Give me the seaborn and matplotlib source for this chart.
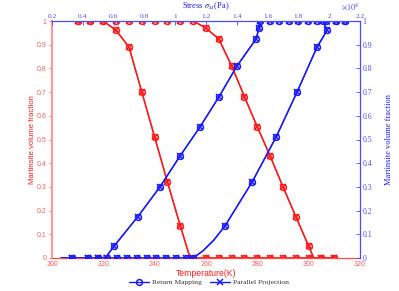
import numpy as np
import pandas as pd
import matplotlib
matplotlib.use("Agg")
import matplotlib.pyplot as plt
import seaborn as sns
from matplotlib.lines import Line2D

# ---------------- data ----------------
# Temperature-driven curves (bottom / left axes)
temp_fwd = [210, 215, 220, 225, 230, 235, 240, 245, 250, 253.8, 255, 260, 265, 270,
            275, 280, 285, 290, 295, 300, 305, 310]
frac_fwd = [1, 1, 1, 0.96, 0.89, 0.70, 0.51, 0.32, 0.135, 0, 0, 0, 0, 0,
            0, 0, 0, 0, 0, 0, 0, 0]
marks_fwd = [i for i in range(len(temp_fwd)) if i != 9]

temp_rev = [210, 215, 220, 225, 230, 235, 240, 245, 250, 255, 260, 265, 270, 275,
            280, 285, 290, 295, 300, 302, 305, 310]
frac_rev = [1, 1, 1, 1, 1, 1, 1, 1, 1, 1, 0.97, 0.924, 0.81, 0.68,
            0.553, 0.43, 0.30, 0.175, 0.05, 0, 0, 0]
marks_rev = [i for i in range(len(temp_rev)) if i != 19]

# Stress-driven curves (top / right axes), stress in 1e8 Pa
stress_c = [0.26, 0.33, 0.434, 0.499, 0.545, 0.603, 0.758, 0.901, 1.031, 1.161, 1.284,
            1.401, 1.525, 1.544, 1.551, 1.616, 1.674, 1.739, 1.797, 1.862, 1.921, 1.979,
            2.044, 2.103]
frac_c = [0, 0, 0, 0, 0, 0.05, 0.175, 0.30, 0.43, 0.553, 0.68,
          0.81, 0.924, 0.97, 1, 1, 1, 1, 1, 1, 1, 1,
          1, 1]
marks_c = [i for i in range(len(stress_c)) if i not in (0, 4)]

stress_d = [0.26, 0.330, 0.434, 0.499, 0.557, 0.622, 0.687, 0.752, 0.817, 0.875, 0.940,
            1.005, 1.070, 1.116, 1.18, 1.25, 1.323, 1.499, 1.655, 1.791, 1.921, 1.986,
            1.96, 2.044, 2.103]
frac_d = [0, 0, 0, 0, 0, 0, 0, 0, 0, 0, 0,
          0, 0, 0, 0.03, 0.075, 0.135, 0.32, 0.51, 0.70, 0.89, 0.96,
          1, 1, 1]
marks_d = [i for i in range(len(stress_d)) if i not in (0, 14, 15)]

temp_ticks = [200, 220, 240, 260, 280, 300, 320]
stress_ticks = [0.2, 0.4, 0.6, 0.8, 1, 1.2, 1.4, 1.6, 1.8, 2, 2.2]
frac_ticks = [0, 0.1, 0.2, 0.3, 0.4, 0.5, 0.6, 0.7, 0.8, 0.9, 1]
legend_labels = ["Return Mapping", "Parallel Projection"]

# ---------------- style ----------------
sns.set_theme(style="white")
plt.rcParams['font.family'] = ['Liberation Sans', 'DejaVu Sans']
plt.rcParams['mathtext.fontset'] = 'stix'

RED = '#ff1a1a'
RED_TXT = '#ff5a5a'
BLUE = '#1a1aff'
BLUE_TXT = '#4a4aff'
SERIF = ['Liberation Serif', 'DejaVu Serif']
MS = 4.2

W, H = 399, 291
fig = plt.figure(figsize=(W / 100, H / 100), dpi=100)
rect = [52 / W, 1 - 258 / H, 308 / W, 237 / H]
ax = fig.add_axes(rect)
ax2 = fig.add_axes(rect, facecolor='none')


def draw(axis, x, y, marks, color):
    df = pd.DataFrame({'x': x, 'y': y})
    for m in ['o', 'x']:
        sns.lineplot(data=df, x='x', y='y', ax=axis, sort=False, estimator=None,
                     color=color, lw=1.0, marker=m, markevery=marks, markersize=MS,
                     markeredgewidth=1.1, markeredgecolor=color,
                     markerfacecolor='none', legend=False)


draw(ax, temp_fwd, frac_fwd, marks_fwd, RED)
draw(ax, temp_rev, frac_rev, marks_rev, RED)
draw(ax2, stress_c, frac_c, marks_c, BLUE)
draw(ax2, stress_d, frac_d, marks_d, BLUE)

# primary axes (bottom / left): red
ax.set_xlim(200, 320)
ax.set_ylim(0, 1)
ax.set_xticks(temp_ticks)
ax.set_yticks(frac_ticks)
ax.set_xticklabels([str(t) for t in temp_ticks])
ax.set_yticklabels(['0'] + [f'{v:g}' for v in frac_ticks[1:]])
ax.tick_params(axis='x', direction='in', length=3, width=0.6, colors=RED_TXT,
               labelsize=5, pad=2.5, bottom=True)
ax.tick_params(axis='y', direction='out', length=2.5, width=0.6, colors=RED_TXT,
               labelsize=5, pad=1.5, left=True)
for s in ['top', 'right']:
    ax.spines[s].set_visible(False)
ax.spines['left'].set_color('#ff9a9a')
ax.spines['left'].set_linewidth(1.5)
ax.spines['bottom'].set_color('#ff4a4a')
ax.spines['bottom'].set_linewidth(0.9)
ax.set_xlabel('Temperature(K)', color=RED, fontsize=6.2, labelpad=0.5)
ax.set_ylabel('Martinsite volume fraction', color=RED, fontsize=5.6, labelpad=0.5)
ax.grid(False)

# secondary axes (top / right): blue
ax2.set_xlim(0.2, 2.2)
ax2.set_ylim(0, 1)
ax2.xaxis.tick_top()
ax2.xaxis.set_label_position('top')
ax2.yaxis.tick_right()
ax2.yaxis.set_label_position('right')
ax2.set_xticks(stress_ticks)
ax2.set_yticks(frac_ticks)
ax2.set_xticklabels([f'{v:g}' for v in stress_ticks], fontfamily=SERIF)
ax2.set_yticklabels(['0'] + [f'{v:g}' for v in frac_ticks[1:]], fontfamily=SERIF)
ax2.tick_params(axis='x', direction='in', length=3, width=0.6, colors=BLUE_TXT,
                labelsize=5.4, pad=1.2, top=True)
ax2.tick_params(axis='y', direction='in', length=3, width=0.6, colors=BLUE_TXT,
                labelsize=5.6, pad=2, right=True)
for s in ['left', 'bottom']:
    ax2.spines[s].set_visible(False)
for s in ['top', 'right']:
    ax2.spines[s].set_color('#4a4aff')
    ax2.spines[s].set_linewidth(0.9)
ax2.set_xlabel(r'Stress $\sigma_{xx}$(Pa)', color=BLUE, fontsize=6.0,
               fontfamily=SERIF)
ax2.xaxis.set_label_coords(0.5, 1 + 8.5 / 237)
ax2.xaxis.label.set_verticalalignment('bottom')
ax2.set_ylabel('Martinsite volume fraction', color=BLUE, fontsize=6.0,
               fontfamily=SERIF, labelpad=9)
ax2.grid(False)
fig.text(359 / W, 1 - 6.5 / H, r'$\times 10^{8}$', color=BLUE_TXT, fontsize=6,
         ha='right', va='center')

# legend
handles = [Line2D([], [], color=BLUE, lw=1.0, marker='o', markersize=MS,
                  markerfacecolor='none', markeredgewidth=1.1),
           Line2D([], [], color=BLUE, lw=1.0, marker='x', markersize=MS,
                  markeredgewidth=1.1)]
leg = fig.legend(handles, legend_labels, loc='center', bbox_to_anchor=(209 / W, 1 - 282 / H),
                 ncol=2, frameon=False, handlelength=2.6, columnspacing=1.2,
                 handletextpad=0.4, prop={'family': SERIF, 'size': 5.4})
for t in leg.get_texts():
    t.set_color('#333333')

fig.savefig('out.png', dpi=100)
